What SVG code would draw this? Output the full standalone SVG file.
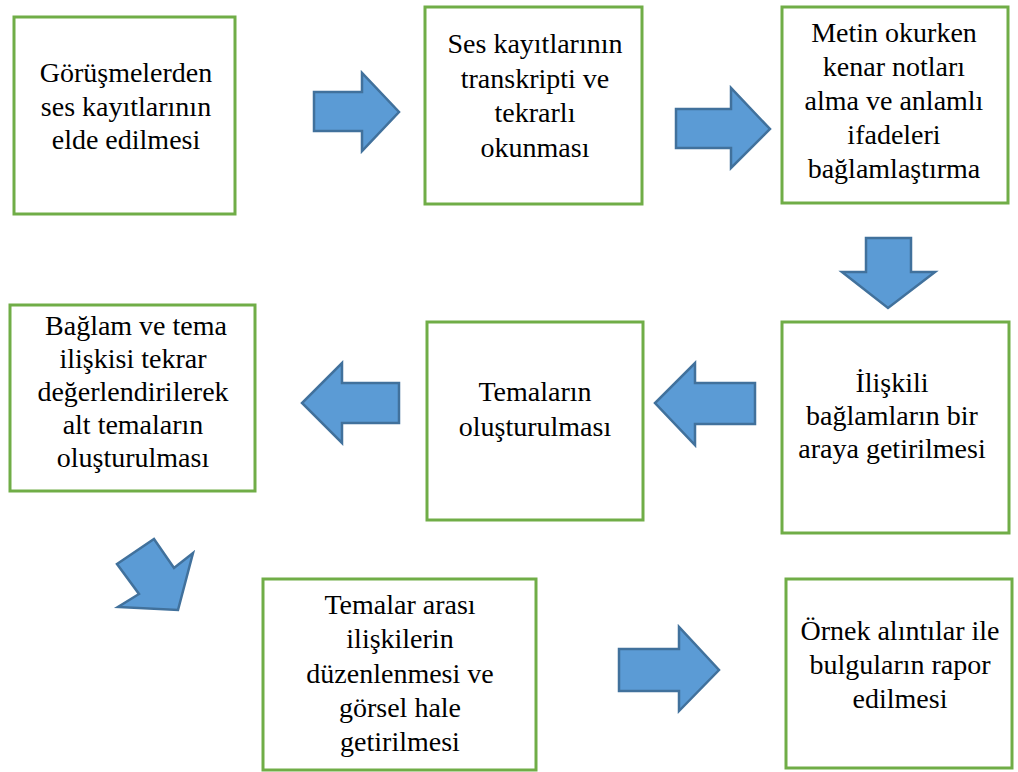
<svg xmlns="http://www.w3.org/2000/svg" width="1018" height="772" viewBox="0 0 1018 772">
<style>
.box{fill:#ffffff;stroke:#70AD47;stroke-width:3}
.arr{fill:#5B9BD5;stroke:#41719C;stroke-width:2.5;stroke-linejoin:miter}
text{font-family:'Liberation Serif','Times New Roman',serif;font-size:28px;fill:#000;text-anchor:middle}
</style>
<rect width="1018" height="772" fill="#ffffff"/>
<g id="n1"><rect class="box" x="14" y="17" width="221" height="197"/>
<text x="126" y="82">Görüşmelerden</text><text x="126" y="115.5">ses kayıtlarının</text><text x="126" y="149">elde edilmesi</text></g>
<g id="n2"><rect class="box" x="425" y="7" width="217" height="197"/>
<text x="535" y="53">Ses kayıtlarının</text><text x="535" y="87.5">transkripti ve</text><text x="535" y="122">tekrarlı</text><text x="535" y="156.5">okunması</text></g>
<g id="n3"><rect class="box" x="782" y="7" width="226" height="196"/>
<text x="894" y="42">Metin okurken</text><text x="894" y="76">kenar notları</text><text x="894" y="110">alma ve anlamlı</text><text x="894" y="144">ifadeleri</text><text x="894" y="178">bağlamlaştırma</text></g>
<g id="n4"><rect class="box" x="782" y="322" width="227" height="211"/>
<text x="892" y="392">İlişkili</text><text x="892" y="425">bağlamların bir</text><text x="892" y="458">araya getirilmesi</text></g>
<g id="n5"><rect class="box" x="427" y="322" width="216" height="198"/>
<text x="535" y="401">Temaların</text><text x="535" y="436">oluşturulması</text></g>
<g id="n6"><rect class="box" x="10" y="305" width="245" height="186"/>
<text x="136" y="335">Bağlam ve tema</text><text x="133" y="368">ilişkisi tekrar</text><text x="133" y="401">değerlendirilerek</text><text x="133" y="434">alt temaların</text><text x="133" y="467">oluşturulması</text></g>
<g id="n7"><rect class="box" x="263" y="579" width="273" height="191"/>
<text x="400" y="614">Temalar arası</text><text x="400" y="648">ilişkilerin</text><text x="400" y="683">düzenlenmesi ve</text><text x="400" y="717">görsel hale</text><text x="400" y="751">getirilmesi</text></g>
<g id="n8"><rect class="box" x="786" y="579" width="226" height="189"/>
<text x="900" y="640">Örnek alıntılar ile</text><text x="900" y="674">bulguların rapor</text><text x="900" y="708">edilmesi</text></g>
<g id="connectors">
<polygon class="arr" points="314,92 362,92 362,73 399,112 362,151 362,131 314,131"/>
<polygon class="arr" points="676,109 731,109 731,88 770,129 731,168 731,148 676,148"/>
<polygon class="arr" points="866,238 911,238 911,272 935,272 888,308 842,272 866,272"/>
<polygon class="arr" points="755,383 695,383 695,363 655,403 695,445 695,424 755,424"/>
<polygon class="arr" points="399,383 342,383 342,363 302,403 342,443 342,423 399,423"/>
<polygon class="arr" points="117,564 154,539 174,568 193,553 178,610 118,607 139,594"/>
<polygon class="arr" points="619,649 679,649 679,627 719,670 679,711 679,691 619,691"/>
</g>
</svg>
